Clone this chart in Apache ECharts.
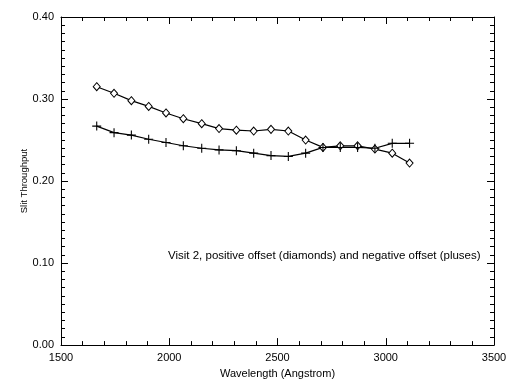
<!DOCTYPE html>
<html><head><meta charset="utf-8">
<script src="https://cdn.jsdelivr.net/npm/echarts@6/dist/echarts.min.js"></script>
<style>html,body{margin:0;padding:0;background:#fff}#c{width:512px;height:384px}</style>
</head><body><div id="c"></div>
<script>
const wavelengths = [1665, 1745, 1825, 1905, 1985, 2065, 2150, 2230, 2310, 2390, 2470, 2550, 2630, 2710, 2790, 2870, 2950, 3030, 3110];
const positiveOffset = [0.315, 0.307, 0.298, 0.291, 0.283, 0.276, 0.270, 0.264, 0.262, 0.261, 0.263, 0.261, 0.250, 0.241, 0.243, 0.243, 0.239, 0.234, 0.222];
const negativeOffset = [0.267, 0.259, 0.256, 0.251, 0.247, 0.243, 0.240, 0.238, 0.237, 0.234, 0.231, 0.230, 0.234, 0.241, 0.241, 0.241, 0.240, 0.246, 0.246];
const xRange = [1500, 3500];
const yRange = [0, 0.4];
const annotation = 'Visit 2, positive offset (diamonds) and negative offset (pluses)';
const xTitle = 'Wavelength (Angstrom)';
const yTitle = 'Slit Throughput';

const FONT = 'Liberation Sans';
const plusPath = 'path://M-0.12,-1 L0.12,-1 L0.12,-0.12 L1,-0.12 L1,0.12 L0.12,0.12 L0.12,1 L-0.12,1 L-0.12,0.12 L-1,0.12 L-1,-0.12 L-0.12,-0.12 Z';

function axisBase(extra) {
  return Object.assign({
    axisLine: { show: true, onZero: false, lineStyle: { color: '#000', width: 1 } },
    axisTick: { show: true, inside: true, length: 7, lineStyle: { color: '#000' } },
    minorTick: { show: true, length: 4, lineStyle: { color: '#000' } },
    splitLine: { show: false },
    minorSplitLine: { show: false }
  }, extra);
}

const chart = echarts.init(document.getElementById('c'), null, { renderer: 'canvas' });
chart.setOption({
  animation: false,
  backgroundColor: '#fff',
  grid: { left: 61, top: 17, width: 433, height: 329, containLabel: false },
  xAxis: [
    axisBase({ type: 'value', position: 'bottom', min: xRange[0], max: xRange[1], interval: 500,
      minorTick: { show: true, splitNumber: 5, length: 4, lineStyle: { color: '#000' } },
      axisLabel: { color: '#000', fontFamily: FONT, fontSize: 11, margin: 7, formatter: v => String(v) },
      name: xTitle, nameLocation: 'middle', nameGap: 17,
      nameTextStyle: { color: '#000', fontFamily: FONT, fontSize: 11 } }),
    axisBase({ type: 'value', position: 'top', min: xRange[0], max: xRange[1], interval: 500,
      minorTick: { show: true, splitNumber: 5, length: 4, lineStyle: { color: '#000' } },
      axisLabel: { show: false } })
  ],
  yAxis: [
    axisBase({ type: 'value', position: 'left', min: yRange[0], max: yRange[1], interval: 0.1,
      minorTick: { show: true, splitNumber: 10, length: 4, lineStyle: { color: '#000' } },
      axisLabel: { color: '#000', fontFamily: FONT, fontSize: 11, margin: 7, formatter: v => v.toFixed(2) },
      name: yTitle, nameLocation: 'middle', nameGap: 32, nameMoveOverlap: false,
      nameTextStyle: { color: '#000', fontFamily: FONT, fontSize: 9.5 } }),
    axisBase({ type: 'value', position: 'right', min: yRange[0], max: yRange[1], interval: 0.1,
      minorTick: { show: true, splitNumber: 10, length: 4, lineStyle: { color: '#000' } },
      axisLabel: { show: false } })
  ],
  series: [
    { type: 'line', xAxisIndex: 0, yAxisIndex: 0,
      data: wavelengths.map((w, i) => [w, positiveOffset[i]]),
      symbol: 'diamond', symbolSize: [7, 8], showAllSymbol: true,
      lineStyle: { color: '#000', width: 1.2 },
      itemStyle: { color: '#fff', borderColor: '#000', borderWidth: 1 } },
    { type: 'line', xAxisIndex: 0, yAxisIndex: 0,
      data: wavelengths.map((w, i) => [w, negativeOffset[i]]),
      symbol: plusPath, symbolSize: 9, showAllSymbol: true,
      lineStyle: { color: '#000', width: 1.2 },
      itemStyle: { color: '#000', borderWidth: 0 } }
  ],
  graphic: [
    { type: 'text', left: 168, top: 250,
      style: { text: annotation, fill: '#000', fontFamily: FONT, fontSize: 11.5 } }
  ]
});
</script>
</body></html>
